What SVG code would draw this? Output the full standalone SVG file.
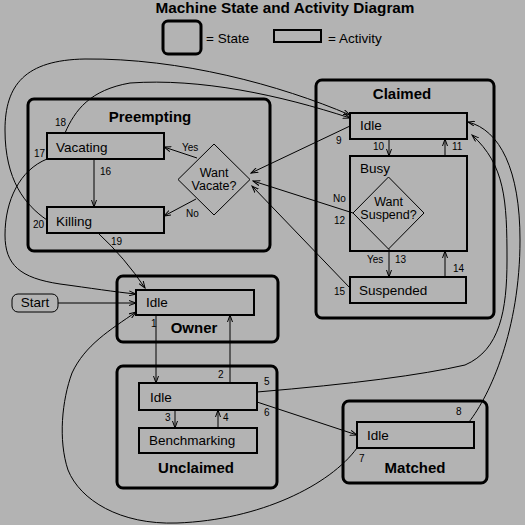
<svg xmlns="http://www.w3.org/2000/svg" width="525" height="525" viewBox="0 0 525 525">
<defs>
<marker id="ah" markerWidth="8" markerHeight="6" refX="7" refY="3" orient="auto" markerUnits="userSpaceOnUse">
<path d="M0,0.5 L7,3 L0,5.5" fill="none" stroke="#000" stroke-width="1"/>
</marker>
</defs>
<style>
text{font-family:"Liberation Sans",Arial,sans-serif;fill:#000}
.title{font-size:14.5px;font-weight:bold;text-anchor:middle}
.sl{font-size:15px;font-weight:bold;text-anchor:middle}
.t{font-size:13.5px}
.c{font-size:13.5px;text-anchor:middle}
.d{font-size:12.5px;text-anchor:middle}
.n{font-size:10px}
.state{fill:none;stroke:#000;stroke-width:3}
.act{fill:none;stroke:#000;stroke-width:2}
.dia{fill:none;stroke:#000;stroke-width:1}
.e{fill:none;stroke:#000;stroke-width:1;marker-end:url(#ah)}
</style>
<rect width="525" height="525" fill="#b3b3b3"/>
<text class="title" x="285" y="13" textLength="259" lengthAdjust="spacingAndGlyphs">Machine State and Activity Diagram</text>
<g id="legend">
<rect class="state" x="163" y="21" width="38" height="33" rx="5"/>
<text class="t" x="206" y="43">= State</text>
<rect class="act" x="274" y="30" width="47" height="12"/>
<text class="t" x="328" y="43">= Activity</text>
</g>
<g id="preempting">
<rect class="state" x="28" y="99" width="242" height="152" rx="6"/>
<text class="sl" x="150" y="122">Preempting</text>
</g>
<g id="vacating">
<rect class="act" x="47" y="133" width="117" height="26"/>
<text class="t" x="56" y="152">Vacating</text>
</g>
<g id="killing">
<rect class="act" x="47" y="207" width="117" height="26"/>
<text class="t" x="56" y="226">Killing</text>
</g>
<g id="want-vacate">
<polygon class="dia" points="214,144 250,179.5 214,215 178,179.5"/>
<text class="d" x="214" y="176.5">Want</text>
<text class="d" x="214" y="189.5">Vacate?</text>
</g>
<g id="claimed">
<rect class="state" x="316" y="80" width="178" height="238" rx="6"/>
<text class="sl" x="402" y="99">Claimed</text>
</g>
<g id="claimed-idle">
<rect class="act" x="350" y="113" width="117" height="26"/>
<text class="t" x="360" y="130">Idle</text>
</g>
<g id="busy">
<rect class="act" x="350" y="156" width="117" height="95"/>
<text class="t" x="360" y="173">Busy</text>
</g>
<g id="want-suspend">
<polygon class="dia" points="388.5,177 424,213 388.5,249 353,213"/>
<text class="d" x="388.5" y="205.5">Want</text>
<text class="d" x="388.5" y="218.5">Suspend?</text>
</g>
<g id="suspended">
<rect class="act" x="350" y="277" width="116" height="26"/>
<text class="t" x="359" y="295">Suspended</text>
</g>
<g id="owner">
<rect class="state" x="117" y="276" width="161" height="66" rx="6"/>
<text class="sl" x="194" y="333">Owner</text>
</g>
<g id="owner-idle">
<rect class="act" x="136" y="290" width="118" height="25"/>
<text class="t" x="146" y="307">Idle</text>
</g>
<g id="start">
<rect fill="none" stroke="#000" stroke-width="1" x="12" y="294" width="46" height="18" rx="6"/>
<text class="c" x="35" y="307">Start</text>
</g>
<g id="unclaimed">
<rect class="state" x="117" y="366" width="160" height="122" rx="6"/>
<text class="sl" x="196" y="473">Unclaimed</text>
</g>
<g id="unclaimed-idle">
<rect class="act" x="139" y="383" width="118" height="27"/>
<text class="t" x="150" y="402">Idle</text>
</g>
<g id="benchmarking">
<rect class="act" x="139" y="428" width="118" height="25"/>
<text class="t" x="149" y="445">Benchmarking</text>
</g>
<g id="matched">
<rect class="state" x="343" y="401" width="144" height="82" rx="6"/>
<text class="sl" x="415" y="473">Matched</text>
</g>
<g id="matched-idle">
<rect class="act" x="357" y="422" width="117" height="26"/>
<text class="t" x="367" y="440">Idle</text>
</g>
<g id="connectors">
<path class="e" d="M58,303 L136,303"/>
<path class="e" d="M156,315 L156,383"/>
<path class="e" d="M230,383 L230,315"/>
<path class="e" d="M175,410 L175,428"/>
<path class="e" d="M218,428 L218,410"/>
<path class="e" d="M257,402 L357,435"/>
<path class="e" d="M257,392 Q400,380 465,365 C500,350 507,310 507,260 C507,200 505,165 472,135"/>
<path class="e" d="M469,422 C490,395 520,330 520,240 C520,170 500,130 468,122"/>
<path class="e" d="M357,448 C330,485 260,520 177,523 C120,525 80,500 68,470 C58,440 62,400 72,373 C85,345 110,330 136,312"/>
<path class="e" d="M350,126 L251,173"/>
<path class="e" d="M353,213 L253,181"/>
<path class="e" d="M350,288 L252,186"/>
<path class="e" d="M94,159 L94,207"/>
<path class="e" d="M197,158 L164,147"/>
<path class="e" d="M196,199 L164,216"/>
<path class="e" d="M389,139 L389,156"/>
<path class="e" d="M445,156 L445,139"/>
<path class="e" d="M389,249 L389,277"/>
<path class="e" d="M445,277 L445,251"/>
<path class="e" d="M98,233 Q125,258 145,288"/>
<path class="e" d="M47,159 C20,170 5,200 5,235 C5,265 20,278 60,284 C90,288 115,292 136,294"/>
<path class="e" d="M65,133 C75,110 90,90 130,83 C200,78 280,95 350,118"/>
<path class="e" d="M47,220 C25,205 5,180 5,130 C5,85 25,60 85,59 C180,58 280,85 350,115"/>
</g>
<g id="labels">
<text class="n" x="55" y="126">18</text>
<text class="n" x="34" y="157">17</text>
<text class="n" x="33" y="228">20</text>
<text class="n" x="111" y="245">19</text>
<text class="n" x="100" y="175">16</text>
<text class="n" x="182" y="151">Yes</text>
<text class="n" x="186" y="217">No</text>
<text class="n" x="336" y="144">9</text>
<text class="n" x="373" y="150">10</text>
<text class="n" x="452" y="150">11</text>
<text class="n" x="333" y="202">No</text>
<text class="n" x="334" y="224">12</text>
<text class="n" x="367" y="263">Yes</text>
<text class="n" x="395" y="263">13</text>
<text class="n" x="453" y="272">14</text>
<text class="n" x="334" y="295">15</text>
<text class="n" x="151" y="327">1</text>
<text class="n" x="218" y="378">2</text>
<text class="n" x="264" y="385">5</text>
<text class="n" x="264" y="416">6</text>
<text class="n" x="165" y="421">3</text>
<text class="n" x="223" y="421">4</text>
<text class="n" x="359" y="462">7</text>
<text class="n" x="456" y="415">8</text>
</g>
</svg>
